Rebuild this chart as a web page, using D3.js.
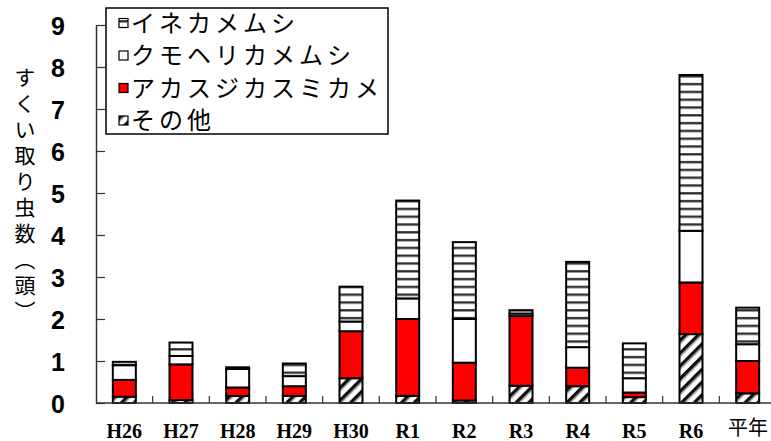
<!DOCTYPE html>
<html>
<head>
<meta charset="utf-8">
<script src="https://cdn.jsdelivr.net/npm/d3@7/dist/d3.min.js"></script>
<style>
body { margin: 0; background: #fff; }
</style>
</head>
<body>
<div id="chart"></div>
<script>
// data
var years = ["H26", "H27", "H28", "H29", "H30", "R1", "R2", "R3", "R4", "R5", "R6", "平年"];
var sonota = [0.15, 0.07, 0.17, 0.17, 0.59, 0.17, 0.06, 0.41, 0.40, 0.14, 1.64, 0.23];
var akasuji = [0.40, 0.85, 0.20, 0.23, 1.12, 1.83, 0.90, 1.66, 0.44, 0.11, 1.23, 0.77];
var kumoheri = [0.35, 0.20, 0.44, 0.24, 0.23, 0.49, 1.04, 0.06, 0.49, 0.34, 1.23, 0.40];
var inekame = [0.08, 0.32, 0.04, 0.30, 0.83, 2.33, 1.83, 0.08, 2.03, 0.83, 3.71, 0.87];
var seriesNames = ["その他", "アカスジカスミカメ", "クモヘリカメムシ", "イネカメムシ"];
var yTicks = [0, 1, 2, 3, 4, 5, 6, 7, 8, 9];

var w = 771;
var h = 441;
var plotLeft = 96, plotTop = 25, plotBottom = 403, plotRight = 776;

var rows = years.map(function(y, i) {
    return { year: y, "その他": sonota[i], "アカスジカスミカメ": akasuji[i],
             "クモヘリカメムシ": kumoheri[i], "イネカメムシ": inekame[i] };
});

var fills = {
    "その他": "url(#hatch)",
    "アカスジカスミカメ": "#ff0000",
    "クモヘリカメムシ": "#ffffff",
    "イネカメムシ": "url(#stripes)"
};

var pad = 1 - 23 / ((plotRight - plotLeft) / years.length);
var xScale = d3.scaleBand().domain(years).range([plotLeft, plotRight]).paddingInner(pad).paddingOuter(pad / 2);
var yScale = d3.scaleLinear().domain([0, 9]).range([plotBottom, plotTop]);

var svg = d3.select("#chart").append("svg").attr("width", w).attr("height", h)
    .style("font-family", "'Liberation Sans', sans-serif");

var defs = svg.append("defs");
// horizontal stripes
var st = defs.append("pattern").attr("id", "stripes").attr("patternUnits", "userSpaceOnUse")
    .attr("width", 8).attr("height", 7.8);
st.append("rect").attr("width", 8).attr("height", 7.8).attr("fill", "#fff");
st.append("rect").attr("y", 5).attr("width", 8).attr("height", 1.8).attr("fill", "#222");
st.append("rect").attr("y", 6.8).attr("width", 8).attr("height", 1).attr("fill", "#999");
// diagonal hatch
var ht = defs.append("pattern").attr("id", "hatch").attr("patternUnits", "userSpaceOnUse")
    .attr("width", 9).attr("height", 9).attr("patternTransform", "rotate(45)");
ht.append("rect").attr("width", 9).attr("height", 9).attr("fill", "#fff");
ht.append("rect").attr("x", 0).attr("width", 3.5).attr("height", 9).attr("fill", "#111");
ht.append("rect").attr("x", 3.5).attr("width", 1).attr("height", 9).attr("fill", "#888");

var stack = d3.stack().keys(seriesNames);
var layers = stack(rows);

svg.selectAll("g.layer")
    .data(layers)
    .enter()
    .append("g")
    .attr("class", "layer")
    .attr("fill", function(d) { return fills[d.key]; })
    .selectAll("rect")
    .data(function(d) { return d; })
    .enter()
    .append("rect")
    .attr("x", function(d) { return xScale(d.data.year); })
    .attr("y", function(d) { return yScale(d[1]); })
    .attr("width", xScale.bandwidth())
    .attr("height", function(d) { return yScale(d[0]) - yScale(d[1]); })
    .attr("stroke", "#000")
    .attr("stroke-width", 2);

// axes
var yAxis = d3.axisLeft(yScale).tickValues(yTicks).tickSizeInner(-9).tickSizeOuter(0).tickFormat(d3.format("d"));
var gy = svg.append("g").attr("transform", "translate(" + plotLeft + ",0)").call(yAxis);
gy.select(".domain").attr("stroke", "#333").attr("stroke-width", 1.5);
gy.selectAll(".tick line").attr("stroke", "#333").attr("stroke-width", 1.2);
gy.selectAll(".tick text")
    .attr("x", -38)
    .attr("dy", "0.36em")
    .attr("text-anchor", "middle")
    .style("font-family", "'Liberation Sans Narrow', 'Liberation Sans', sans-serif")
    .style("font-weight", "bold")
    .style("font-size", "25px")
    .attr("fill", "#000");

// x axis line with inward ticks at band boundaries
svg.append("line").attr("x1", plotLeft).attr("x2", w).attr("y1", plotBottom).attr("y2", plotBottom)
    .attr("stroke", "#333").attr("stroke-width", 1.5);
var step = xScale.step();
svg.selectAll("line.xtick")
    .data(years)
    .enter()
    .append("line")
    .attr("class", "xtick")
    .attr("x1", function(d, i) { return plotLeft + (i + 1) * step; })
    .attr("x2", function(d, i) { return plotLeft + (i + 1) * step; })
    .attr("y1", plotBottom)
    .attr("y2", plotBottom - 7)
    .attr("stroke", "#333")
    .attr("stroke-width", 1.2);

svg.selectAll("text.xlabel")
    .data(years)
    .enter()
    .append("text")
    .attr("class", "xlabel")
    .attr("x", function(d) { return d === "平年" ? 748 : xScale(d) + xScale.bandwidth() / 2; })
    .attr("y", function(d) { return d === "平年" ? 435 : 438; })
    .attr("text-anchor", "middle")
    .style("font-family", function(d) { return d === "平年" ? "'Noto Sans CJK JP', sans-serif" : "'Liberation Serif', serif"; })
    .style("font-weight", function(d) { return d === "平年" ? "normal" : "bold"; })
    .style("font-size", "20px")
    .text(function(d) { return d; });

// y title, vertical
svg.append("text")
    .attr("x", 25)
    .attr("y", 67)
    .attr("writing-mode", "tb")
    .style("writing-mode", "vertical-rl")
    .style("font-family", "'Noto Sans CJK JP', sans-serif")
    .style("font-size", "21px")
    .style("letter-spacing", "5px")
    .text("すくい取り虫数（頭）");

// legend
var lg = svg.append("g");
lg.append("rect").attr("x", 106).attr("y", 8).attr("width", 282).attr("height", 126)
    .attr("fill", "#fff").attr("stroke", "#000").attr("stroke-width", 1.5);
var legendOrder = seriesNames.slice().reverse();
var items = lg.selectAll("g.item")
    .data(legendOrder)
    .enter()
    .append("g")
    .attr("class", "item")
    .attr("transform", function(d, i) { return "translate(0," + (23 + i * 32.5) + ")"; });
items.append("rect")
    .attr("x", 119).attr("y", -4.5).attr("width", 9).attr("height", 9)
    .attr("fill", function(d) { return fills[d]; })
    .attr("stroke", "#000").attr("stroke-width", 1.2);
items.append("text")
    .attr("x", 131)
    .attr("dy", "0.36em")
    .style("font-family", "'Noto Sans CJK JP', sans-serif")
    .style("font-size", "24px")
    .style("letter-spacing", "4px")
    .text(function(d) { return d; });
</script>
</body>
</html>
